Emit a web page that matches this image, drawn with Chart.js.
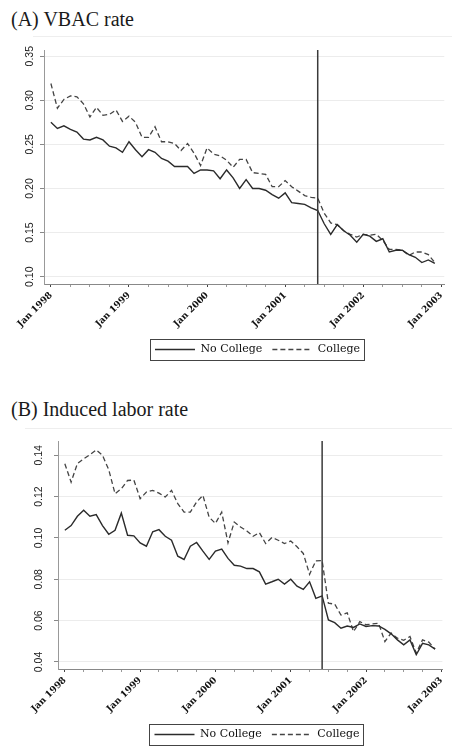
<!DOCTYPE html>
<html><head><meta charset="utf-8">
<script src="https://cdn.jsdelivr.net/npm/chart.js@4.4.1/dist/chart.umd.min.js"></script>
<style>
html,body{margin:0;padding:0;background:#fff;overflow:hidden;}
body{width:452px;height:746px;position:relative;}
.title{position:absolute;left:11px;font:20px/20px "Liberation Serif",serif;color:#1a1a1a;white-space:nowrap;}
.rule{position:absolute;right:0;height:0;border-top:1px solid #eeeeee;}
.box{position:absolute;left:0;width:452px;}
</style></head><body>
<div class="title" style="top:9px">(A) VBAC rate</div>
<div class="rule" style="left:33px;top:36px"></div>
<div class="box" style="top:36px;height:329px"><canvas id="chartA"></canvas></div>
<div class="title" style="top:399px">(B) Induced labor rate</div>
<div class="rule" style="left:25px;top:428px"></div>
<div class="box" style="top:425px;height:325px"><canvas id="chartB"></canvas></div>
<script>
// monthly series, Jan 1998 .. Dec 2002 (index 0 = Jan 1998)
const yearLabels=["Jan 1998","Jan 1999","Jan 2000","Jan 2001","Jan 2002","Jan 2003"];
const seriesNames=["No College","College"];
const cutoffMonth=41; // Jun 2001

const vbacNoCollege=[0.275,0.268,0.271,0.267,0.264,0.256,0.255,0.258,0.255,0.248,
0.246,0.241,0.253,0.244,0.236,0.244,0.241,0.234,0.231,0.225,
0.225,0.225,0.217,0.221,0.221,0.220,0.211,0.221,0.212,0.200,
0.210,0.200,0.200,0.198,0.193,0.189,0.195,0.184,0.183,0.182,
0.178,0.175,0.160,0.148,0.159,0.152,0.147,0.139,0.148,0.146,
0.140,0.143,0.128,0.130,0.130,0.125,0.122,0.116,0.119,0.115];
const vbacCollege=[0.319,0.291,0.301,0.305,0.304,0.296,0.281,0.292,0.283,0.284,
0.289,0.276,0.282,0.275,0.258,0.258,0.270,0.253,0.253,0.251,
0.243,0.251,0.240,0.226,0.246,0.239,0.237,0.232,0.224,0.233,
0.233,0.218,0.217,0.216,0.202,0.202,0.209,0.202,0.197,0.192,
0.190,0.189,0.172,0.161,0.159,0.152,0.148,0.145,0.148,0.147,
0.148,0.141,0.131,0.131,0.130,0.124,0.128,0.128,0.125,0.116];
const vbacTicks=[0.10,0.15,0.20,0.25,0.30,0.35];

const inducedNoCollege=[0.1037,0.1060,0.1105,0.1134,0.1105,0.1113,0.1060,0.1018,0.1037,0.1120,
0.1013,0.1010,0.0976,0.0960,0.1030,0.1040,0.1008,0.0989,0.0912,0.0896,
0.0960,0.0978,0.0936,0.0896,0.0936,0.0946,0.0901,0.0868,0.0864,0.0852,
0.0852,0.0836,0.0777,0.0788,0.0800,0.0777,0.0800,0.0767,0.0751,0.0788,
0.0708,0.0720,0.0603,0.0590,0.0563,0.0574,0.0567,0.0584,0.0572,0.0576,
0.0574,0.0558,0.0536,0.0507,0.0483,0.0507,0.0435,0.0490,0.0483,0.0462];
const inducedCollege=[0.1359,0.1270,0.1360,0.1383,0.1403,0.1426,0.1400,0.1330,0.1214,0.1238,
0.1278,0.1280,0.1190,0.1222,0.1230,0.1217,0.1198,0.1230,0.1166,0.1125,
0.1125,0.1174,0.1206,0.1100,0.1070,0.1125,0.0976,0.1077,0.1053,0.1034,
0.1008,0.1026,0.0973,0.1002,0.0989,0.0973,0.0985,0.0957,0.0925,0.0824,
0.0889,0.0890,0.0684,0.0680,0.0627,0.0638,0.0547,0.0595,0.0580,0.0584,
0.0587,0.0499,0.0540,0.0515,0.0505,0.0523,0.0443,0.0507,0.0496,0.0462];
const inducedTicks=[0.04,0.06,0.08,0.10,0.12,0.14];

Chart.defaults.font.family="DejaVu Serif";
Chart.defaults.color="#111";

const cutoffLine={id:"cutoffLine",afterDatasetsDraw(c){
const x=c.scales.x.getPixelForValue(cutoffMonth),a=c.chartArea,ctx=c.ctx;
ctx.save();ctx.strokeStyle="#3a3a3a";ctx.lineWidth=1.5;
ctx.beginPath();ctx.moveTo(x,a.top);ctx.lineTo(x,a.bottom);ctx.stroke();ctx.restore();
}};

/* legend: shift under the plot and draw the frame round it */
const legendBox={id:"legendBox",
afterLayout(c,args,o){c.legend.left+=o.shift;c.legend.right+=o.shift;},
afterDraw(c,args,o){
const h=c.legend.legendHitBoxes;if(!h||!h.length)return;
const l=Math.min(...h.map(b=>b.left))-5,r=Math.max(...h.map(b=>b.left+b.width))+4;
const t=h[0].top-5,b=h[0].top+h[0].height+5;
const ctx=c.ctx;ctx.save();ctx.strokeStyle="#444";ctx.lineWidth=1;
ctx.strokeRect(Math.round(l)+0.5,Math.round(t)+0.5,Math.round(r-l),Math.round(b-t));ctx.restore();
}};

function toPoints(arr){return arr.map((v,i)=>({x:i,y:v}));}

function makeChart(id,noCol,col,p){
return new Chart(document.getElementById(id),{
type:"line",
data:{datasets:[
{label:seriesNames[0],data:toPoints(noCol),borderColor:"#2b2b2b",borderWidth:1.4,pointRadius:0,borderDash:[]},
{label:seriesNames[1],data:toPoints(col),borderColor:"#444",borderWidth:1.3,pointRadius:0,borderDash:[5,3]}
]},
options:{
responsive:true,maintainAspectRatio:false,animation:false,events:[],
layout:{padding:{top:p.padTop,right:p.padRight,left:0,bottom:0}},
scales:{
x:{type:"linear",min:p.xMin,max:p.xMax,
afterFit:s=>{s.height=50;},
grid:{drawOnChartArea:false,tickLength:3,tickColor:ctx=>ctx.tick&&ctx.tick.value%12===0?"#444":"#999"},
border:{color:"#888"},
ticks:{stepSize:3,includeBounds:false,autoSkip:false,minRotation:45,maxRotation:45,padding:3,
font:{family:"DejaVu Serif",size:9,weight:"bold"},color:"#111",
callback:v=>v%12===0?yearLabels[v/12]:""}},
y:{min:p.yMin,max:p.yMax,
afterBuildTicks:s=>{s.ticks=p.yTicks.map(v=>({value:v}));},
afterFit:s=>{s.width=p.axisLeft;},
grid:{color:"#ececec",tickColor:"#888",tickLength:4},
border:{color:"#999"},
ticks:{minRotation:90,maxRotation:90,crossAlign:"center",padding:p.yPad,
font:{family:"Liberation Sans",size:10.5},color:"#222",callback:v=>v.toFixed(2)}}
},
plugins:{
legend:{position:"bottom",labels:{usePointStyle:true,pointStyle:"line",pointStyleWidth:40,padding:10,
font:{family:"DejaVu Serif",size:11},color:"#111",
generateLabels:c=>Chart.defaults.plugins.legend.labels.generateLabels(c).map((it,i)=>Object.assign(it,{
lineDash:c.data.datasets[i].borderDash,lineWidth:1.3,strokeStyle:c.data.datasets[i].borderColor}))}},
tooltip:{enabled:false},
legendBox:{shift:p.shift}
}
},
plugins:[cutoffLine,legendBox]
});
}

makeChart("chartA",vbacNoCollege,vbacCollege,{padTop:14,padRight:1,xMin:-1.06,xMax:60.45,
yMin:0.0917,yMax:0.357,yTicks:vbacTicks,axisLeft:44,yPad:0,shift:32});
makeChart("chartB",inducedNoCollege,inducedCollege,{padTop:16,padRight:0,xMin:-1.09,xMax:60.16,
yMin:0.0366,yMax:0.1469,yTicks:inducedTicks,axisLeft:58,yPad:5,shift:31});
</script>
</body></html>
